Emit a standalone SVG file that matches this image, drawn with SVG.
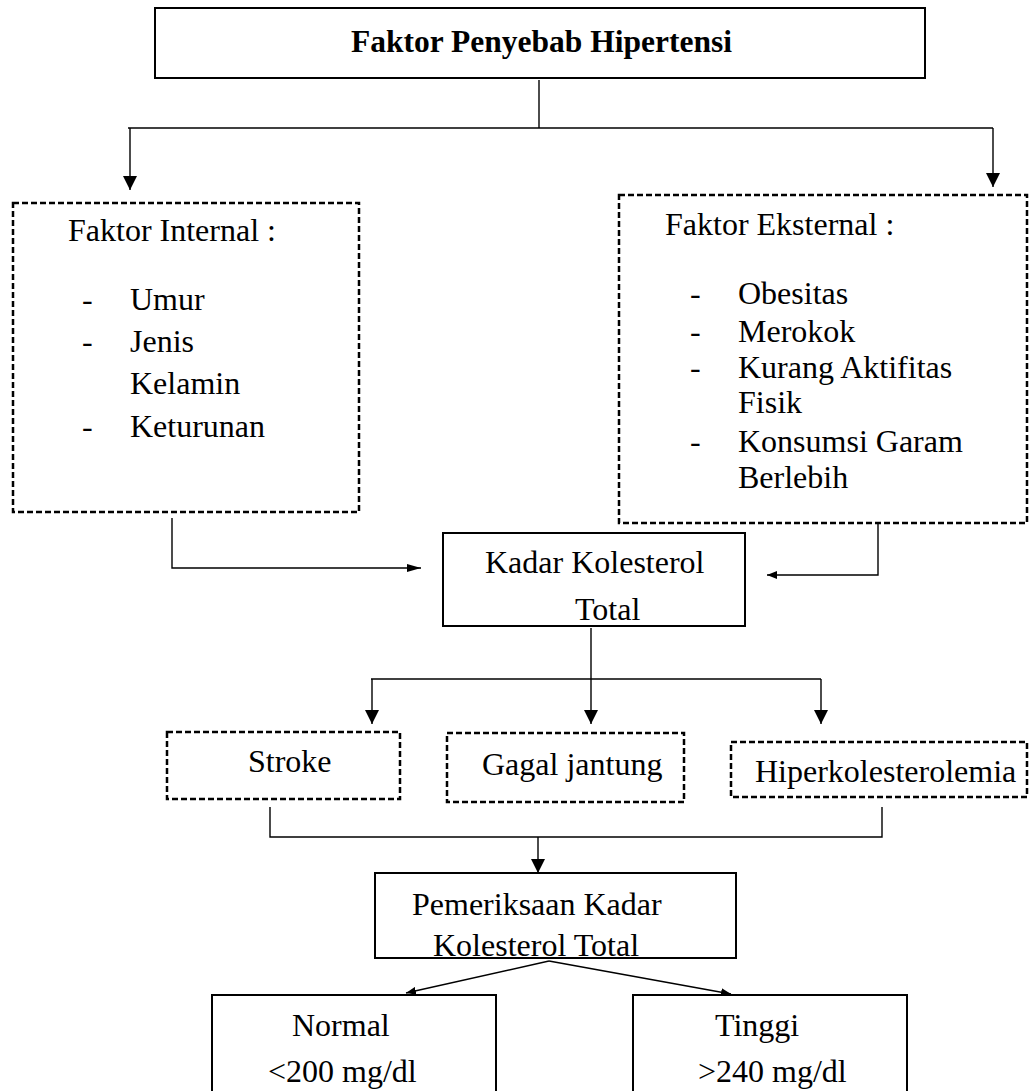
<svg xmlns="http://www.w3.org/2000/svg" width="1030" height="1091" viewBox="0 0 1030 1091">
<style>
text{font-family:"Liberation Serif","Times New Roman",serif;font-size:32px;fill:#000}
.title{font-weight:bold;font-size:31.5px}
.solid{fill:#fff;stroke:#000;stroke-width:2}
.dash{fill:#fff;stroke:#000;stroke-width:2.5;stroke-dasharray:6 3}
.conn{fill:none;stroke:#000;stroke-width:1.4}
</style>
<defs>
<marker id="big" viewBox="0 0 14 14" refX="14" refY="7" markerWidth="14" markerHeight="14" markerUnits="userSpaceOnUse" orient="auto"><path d="M0,0 L14,7 L0,14 z" fill="#000"/></marker>
<marker id="mid" viewBox="0 0 14 8" refX="14" refY="4" markerWidth="14" markerHeight="8" markerUnits="userSpaceOnUse" orient="auto"><path d="M0,0 L14,4 L0,8 z" fill="#000"/></marker>
<marker id="small" viewBox="0 0 10 8" refX="10" refY="4" markerWidth="10" markerHeight="8" markerUnits="userSpaceOnUse" orient="auto"><path d="M0,0 L10,4 L0,8 z" fill="#000"/></marker>
</defs>
<g id="connectors">
<path class="conn" d="M539,80 V128"/>
<path class="conn" d="M128,128 H993"/>
<path class="conn" d="M130,128 V190" marker-end="url(#big)"/>
<path class="conn" d="M993,128 V187" marker-end="url(#big)"/>
<path class="conn" d="M172,518 V568 H421" marker-end="url(#mid)"/>
<path class="conn" d="M878,523 V575 H767" marker-end="url(#small)"/>
<path class="conn" d="M591,628 V679"/>
<path class="conn" d="M371,679 H821"/>
<path class="conn" d="M372,679 V724" marker-end="url(#big)"/>
<path class="conn" d="M591,679 V724" marker-end="url(#big)"/>
<path class="conn" d="M821,679 V724" marker-end="url(#big)"/>
<path class="conn" d="M270,807 V837 H882 V807"/>
<path class="conn" d="M538,837 V873" marker-end="url(#big)"/>
<path class="conn" d="M549,961 L406,993" marker-end="url(#small)"/>
<path class="conn" d="M549,961 L731,994" marker-end="url(#small)"/>
</g>
<g id="title"><rect class="solid" x="155" y="8" width="770" height="70"/><text class="title" x="351" y="52">Faktor Penyebab Hipertensi</text></g>
<g id="internal"><rect class="dash" x="13" y="203" width="346" height="309"/>
<text x="68" y="241">Faktor Internal :</text>
<text x="82" y="310">-</text><text x="130" y="310">Umur</text>
<text x="82" y="352">-</text><text x="130" y="352">Jenis</text>
<text x="130" y="394">Kelamin</text>
<text x="82" y="437">-</text><text x="130" y="437">Keturunan</text>
</g>
<g id="external"><rect class="dash" x="619" y="195" width="408" height="328"/>
<text x="665" y="235">Faktor Eksternal :</text>
<text x="690" y="304">-</text><text x="738" y="304">Obesitas</text>
<text x="690" y="342">-</text><text x="738" y="342">Merokok</text>
<text x="690" y="378">-</text><text x="738" y="378">Kurang Aktifitas</text>
<text x="738" y="413">Fisik</text>
<text x="690" y="452">-</text><text x="738" y="452">Konsumsi Garam</text>
<text x="738" y="488">Berlebih</text>
</g>
<g id="kadar"><rect class="solid" x="443" y="533" width="302" height="93"/>
<text x="485" y="573">Kadar Kolesterol</text>
<text x="575" y="620">Total</text>
</g>
<g id="stroke"><rect class="dash" x="167" y="732" width="233" height="67"/><text x="248" y="772">Stroke</text></g>
<g id="gagal"><rect class="dash" x="447" y="733" width="237" height="69"/><text x="482" y="775">Gagal jantung</text></g>
<g id="hiper"><rect class="dash" x="731" y="742" width="296" height="55"/><text x="755" y="782">Hiperkolesterolemia</text></g>
<g id="pemeriksaan"><rect class="solid" x="375" y="873" width="361" height="85"/>
<text x="412" y="915">Pemeriksaan Kadar</text>
<text x="433" y="956">Kolesterol Total</text>
</g>
<g id="normal"><rect class="solid" x="212" y="995" width="284" height="110"/>
<text x="292" y="1036">Normal</text><text x="268" y="1082">&lt;200 mg/dl</text></g>
<g id="tinggi"><rect class="solid" x="633" y="995" width="274" height="110"/>
<text x="715" y="1036">Tinggi</text><text x="698" y="1082">&gt;240 mg/dl</text></g>
</svg>
